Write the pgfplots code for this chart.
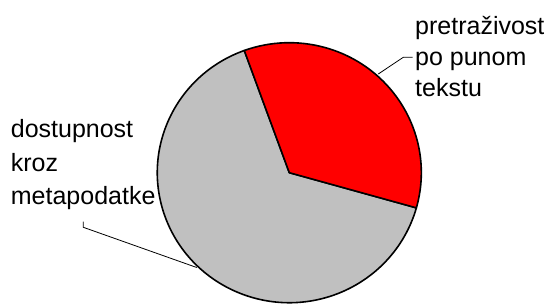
\documentclass[border=0pt]{standalone}
\usepackage{pgfplots}
\usepackage{pgfplotstable}
\pgfplotsset{compat=1.18}
\usepackage{fontspec}
\setmainfont{Liberation Sans}

\pgfplotstableread{
share
34.9
65.1
}\piedata

\begin{document}
\begin{tikzpicture}
\pgfplotstablegetelem{0}{share}\of\piedata
\pgfmathsetmacro{\redshare}{\pgfplotsretval}
\pgfmathsetmacro{\startA}{-15.7}
\pgfmathsetmacro{\midA}{\startA+3.6*\redshare}
\pgfmathsetmacro{\endA}{\startA+360}
\begin{axis}[
  scale only axis, width=547pt, height=305pt,
  xmin=0, xmax=547, ymin=0, ymax=305,
  hide axis, clip=false,
]
% gray slice
\filldraw[fill={rgb,255:red,192;green,192;blue,192}, draw=black, line width=1.6pt, line join=round]
  (axis cs:289.3,132.3) -- ++(\midA:132pt and 130pt)
  arc[start angle=\midA, end angle=\endA, x radius=132pt, y radius=130pt] -- cycle;
% red slice
\filldraw[fill={rgb,255:red,255;green,0;blue,0}, draw=black, line width=1.6pt, line join=round]
  (axis cs:289.3,132.3) -- ++(\startA:132pt and 130pt)
  arc[start angle=\startA, end angle=\midA, x radius=132pt, y radius=130pt] -- cycle;
% leader lines
\draw[black, line width=0.8pt] (axis cs:378.3,231) -- (axis cs:403.3,247.7) -- (axis cs:412.7,247.7);
\draw[black, line width=0.8pt] (axis cs:83.3,83.3) -- (axis cs:83.3,77.7) -- (axis cs:196.7,37.5);
% labels
\begin{scope}[every node/.style={inner sep=0pt, anchor=base west, font=\fontsize{25}{31}\selectfont}]
\node at (axis cs:415,270) {pretraživost};
\node at (axis cs:415,239) {po punom};
\node at (axis cs:415,208) {tekstu};
\node at (axis cs:10.7,167) {dostupnost};
\node at (axis cs:10.7,133.3) {kroz};
\node at (axis cs:10.7,100) {metapodatke};
\end{scope}
\end{axis}
\pgfresetboundingbox
\useasboundingbox (current axis.south west) rectangle (current axis.north east);
\end{tikzpicture}
\end{document}
